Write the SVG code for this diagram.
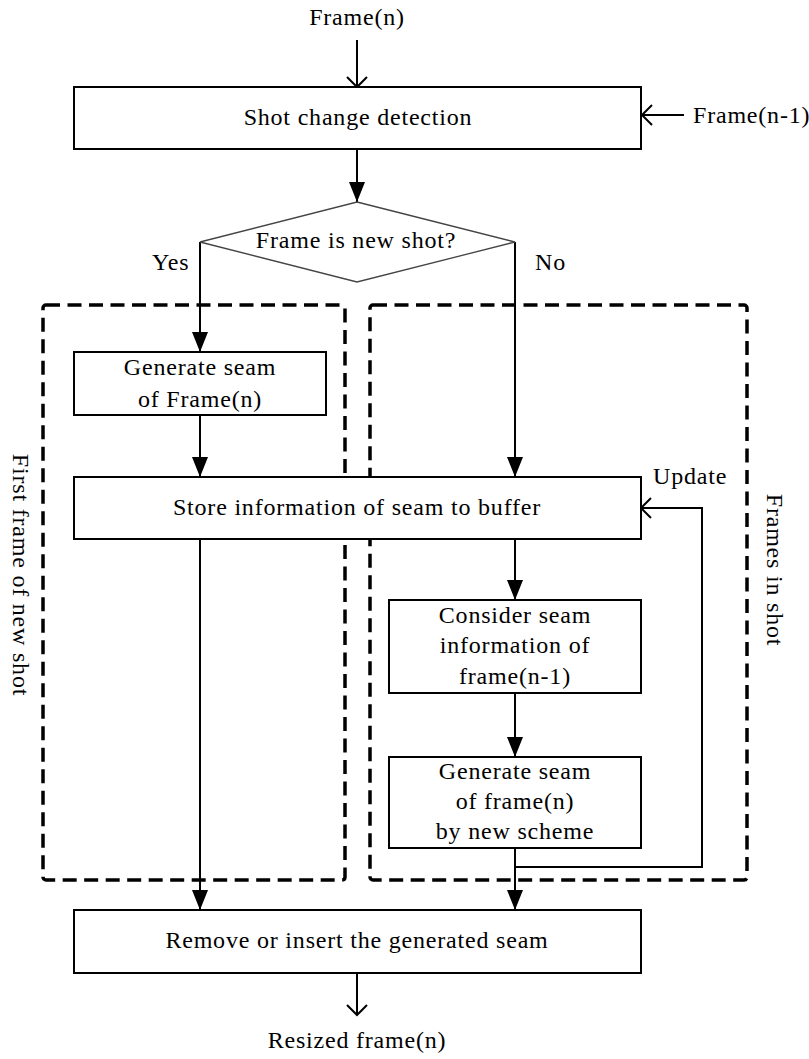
<svg xmlns="http://www.w3.org/2000/svg" width="809" height="1059" viewBox="0 0 809 1059" font-family="Liberation Serif, DejaVu Serif, serif">
<defs>
<style>
text{font-family:'Liberation Serif','DejaVu Serif',serif;font-size:24px;fill:#000;letter-spacing:0.8px}
.c{text-anchor:middle}
.box{fill:#fff;stroke:#000;stroke-width:2}
.dia{fill:#fff;stroke:#444;stroke-width:1.3}
.dash{fill:none;stroke:#000;stroke-width:3.5;stroke-dasharray:14 7.5}
.con{fill:none;stroke:#000;stroke-width:2}
.f{marker-end:url(#fill)}
.o{marker-end:url(#open)}
</style>
<marker id="fill" markerUnits="userSpaceOnUse" markerWidth="20" markerHeight="16" refX="20" refY="8" orient="auto" viewBox="0 0 20 16">
<path d="M0,0 L20,8 L0,16 z" fill="#000"/>
</marker>
<marker id="open" markerUnits="userSpaceOnUse" markerWidth="14" markerHeight="24" refX="11" refY="12" orient="auto" viewBox="0 0 14 24" overflow="visible">
<path d="M1,2 L11,12 L1,22" fill="none" stroke="#000" stroke-width="2"/>
</marker>
</defs>

<g id="region-first-frame">
<rect class="dash" x="43" y="305" width="302" height="575" rx="3"/>
<text transform="translate(13,575) rotate(90)" class="c">First frame of new shot</text>
</g>
<g id="region-frames-in-shot">
<rect class="dash" x="370" y="305" width="377" height="575" rx="3"/>
<text transform="translate(767,570) rotate(90)" class="c">Frames in shot</text>
</g>

<g id="connectors">
<line class="con o" x1="357" y1="40" x2="357" y2="87"/>
<line class="con o" x1="684" y1="115" x2="642" y2="115"/>
<line class="con f" x1="357" y1="149" x2="357" y2="202"/>
<path class="con f" d="M200,242 V352"/>
<path class="con f" d="M515,242 V477"/>
<line class="con f" x1="200" y1="415" x2="200" y2="477"/>
<line class="con f" x1="200" y1="539" x2="200" y2="910"/>
<line class="con f" x1="515" y1="539" x2="515" y2="600"/>
<line class="con f" x1="515" y1="693" x2="515" y2="757"/>
<line class="con f" x1="515" y1="848" x2="515" y2="910"/>
<path class="con o" d="M515,867 H702 V508 H641"/>
<line class="con o" x1="357" y1="973" x2="357" y2="1015"/>
<text x="152" y="270">Yes</text>
<text x="535" y="270">No</text>
<text x="653" y="484">Update</text>
</g>

<g id="input-frame-n">
<text x="357" y="25" class="c">Frame(n)</text>
</g>
<g id="input-frame-n-1">
<text x="693" y="123">Frame(n-1)</text>
</g>
<g id="shot-change-detection">
<rect class="box" x="74" y="87" width="567" height="62"/>
<text x="358" y="125" class="c">Shot change detection</text>
</g>
<g id="decision-new-shot">
<polygon class="dia" points="357,202 515,242 357,282 200,242"/>
<text x="356" y="248" class="c">Frame is new shot?</text>
</g>
<g id="generate-seam-first">
<rect class="box" x="74" y="352" width="252" height="63"/>
<text x="200" y="375" class="c">Generate seam</text>
<text x="200" y="407" class="c">of Frame(n)</text>
</g>
<g id="store-information">
<rect class="box" x="74" y="477" width="567" height="62"/>
<text x="357" y="515" class="c">Store information of seam to buffer</text>
</g>
<g id="consider-seam">
<rect class="box" x="389" y="600" width="252" height="93"/>
<text x="515" y="623" class="c">Consider seam</text>
<text x="515" y="653" class="c">information of</text>
<text x="515" y="684" class="c">frame(n-1)</text>
</g>
<g id="generate-seam-new-scheme">
<rect class="box" x="389" y="757" width="252" height="91"/>
<text x="515" y="779" class="c">Generate seam</text>
<text x="515" y="809" class="c">of frame(n)</text>
<text x="515" y="839" class="c">by new scheme</text>
</g>
<g id="remove-insert">
<rect class="box" x="74" y="910" width="567" height="63"/>
<text x="357" y="948" class="c">Remove or insert the generated seam</text>
</g>
<g id="output-resized">
<text x="357" y="1048" class="c">Resized frame(n)</text>
</g>
</svg>
